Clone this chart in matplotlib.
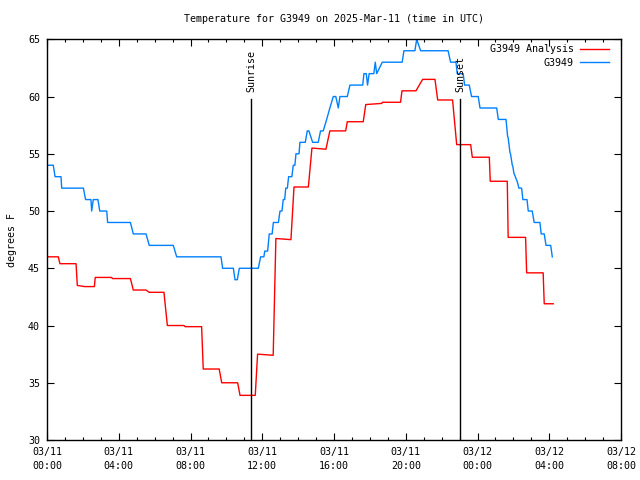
import matplotlib
matplotlib.use("Agg")
import matplotlib.pyplot as plt
import numpy as np

# hours since 03/11 00:00 UTC
obs_t = [0.00, 0.35, 0.45, 0.78, 0.82, 2.03, 2.15, 2.45, 2.49, 2.58, 2.84, 2.94, 3.33, 3.38,
         4.65, 4.81, 5.52, 5.70, 7.04, 7.23, 9.70, 9.79, 10.39, 10.48, 10.61, 10.72, 11.78,
         11.91, 12.09, 12.14, 12.30, 12.39, 12.55, 12.62, 12.90, 12.99, 13.10, 13.17, 13.25,
         13.31, 13.40, 13.47, 13.65, 13.73, 13.82, 13.88, 14.05, 14.10, 14.40, 14.51, 14.60,
         14.81, 15.12, 15.25, 15.40, 15.59, 15.77, 15.96, 16.10, 16.24, 16.33, 16.74, 16.89,
         17.60, 17.67, 17.80, 17.87, 17.96, 18.22, 18.30, 18.38, 18.69, 19.80, 19.90, 20.51,
         20.61, 20.83, 22.36, 22.50, 22.80, 22.87, 23.20, 23.28, 23.54, 23.67, 24.04, 24.14,
         25.07, 25.16, 25.59, 25.68, 25.71, 25.81, 25.84, 25.94, 25.97, 26.03, 26.06, 26.18,
         26.21, 26.31, 26.46, 26.53, 26.76, 26.83, 27.05, 27.16, 27.48, 27.55, 27.72, 27.82,
         28.08, 28.17]
obs_v = [54, 54, 53, 53, 52, 52, 51, 51, 50, 51, 51, 50, 50, 49,
         49, 48, 48, 47, 47, 46, 46, 45, 45, 44, 44, 45, 45,
         46, 46, 46.5, 46.5, 48, 48, 49, 49, 50, 50, 51, 51,
         52, 52, 53, 53, 54, 54, 55, 55, 56, 56, 57, 57,
         56, 56, 57, 57, 58, 59, 60, 60, 59, 60, 60, 61,
         61, 62, 62, 61, 62, 62, 63, 62, 63, 63, 64, 64,
         65, 64, 64, 63, 63, 62, 62, 61, 61, 60, 60, 59,
         59, 58, 58, 56.5, 56.4, 55.1, 55.0, 54.0, 53.9, 53.3, 53.2, 52.7,
         52.6, 52, 52, 51, 51, 50, 50, 49, 49, 48, 48, 47,
         47, 46]

ana_t = [0.00, 0.63, 0.72, 1.62, 1.69, 2.10, 2.64, 2.69, 3.60, 3.65, 4.65, 4.81, 5.52, 5.70,
         6.52, 6.71, 7.64, 7.70, 8.62, 8.71, 9.60, 9.74, 10.63, 10.76, 11.61, 11.74, 12.61,
         12.76, 13.60, 13.77, 14.57, 14.77, 15.55, 15.77, 16.65, 16.74, 17.63, 17.77, 18.66,
         18.70, 19.71, 19.79, 20.57, 20.94, 21.63, 21.78, 22.61, 22.84, 23.62, 23.71, 24.66,
         24.71, 25.66, 25.71, 26.68, 26.74, 27.66, 27.72, 28.22]
ana_v = [46.0, 46.0, 45.4, 45.4, 43.5, 43.4, 43.4, 44.2, 44.2, 44.1, 44.1, 43.1, 43.1, 42.9,
         42.9, 40.0, 40.0, 39.9, 39.9, 36.2, 36.2, 35.0, 35.0, 33.9, 33.9, 37.5, 37.4,
         47.6, 47.5, 52.1, 52.1, 55.5, 55.4, 57.0, 57.0, 57.8, 57.8, 59.3, 59.4,
         59.5, 59.5, 60.5, 60.5, 61.5, 61.5, 59.7, 59.7, 55.8, 55.8, 54.7, 54.7,
         52.6, 52.6, 47.7, 47.7, 44.6, 44.6, 41.9, 41.9]

sunrise = 11.40
sunset = 23.02

xtick_hours = [0, 4, 8, 12, 16, 20, 24, 28, 32]
xtick_labels = ["03/11\n00:00", "03/11\n04:00", "03/11\n08:00", "03/11\n12:00",
                "03/11\n16:00", "03/11\n20:00", "03/12\n00:00", "03/12\n04:00",
                "03/12\n08:00"]

plt.rcParams['font.family'] = 'DejaVu Sans Mono'
plt.rcParams['font.size'] = 7.2

fig = plt.figure(figsize=(6.4, 4.8), dpi=100)
ax = fig.add_axes([47/640, 40/480, 574/640, 400.7/480])

ax.plot(ana_t, ana_v, color='#ff0000', lw=1.0, label='G3949 Analysis')
ax.plot(obs_t, obs_v, color='#0080ff', lw=1.0, label='G3949')

for t, name in [(sunrise, 'Sunrise'), (sunset, 'Sunset')]:
    ax.plot([t, t], [30, 59.8], color='black', lw=1.0)
    ax.text(t, 60.4, name, rotation=90, ha='center', va='bottom')

ax.set_xlim(0, 32)
ax.set_ylim(30, 65)
ax.set_xticks(xtick_hours)
ax.set_xticklabels(xtick_labels, linespacing=1.5)
ax.set_xticks(np.arange(0, 33, 1), minor=True)
ax.set_yticks(np.arange(30, 66, 5))
ax.tick_params(which='both', direction='in', top=True, right=True, width=0.8)
ax.tick_params(which='major', length=5, pad=5)
ax.tick_params(which='minor', length=2.5)
for s in ax.spines.values():
    s.set_linewidth(1.0)

ax.legend(loc='upper right', bbox_to_anchor=(0.979, 0.988), frameon=False,
          markerfirst=False, handlelength=2.9, handletextpad=0.6,
          labelspacing=0.35, borderpad=0, borderaxespad=0)

fig.text(334/640, 1 - 19/480, 'Temperature for G3949 on 2025-Mar-11 (time in UTC)',
         ha='center', va='center')
fig.text(12/640, 0.5, 'degrees F', rotation=90, ha='center', va='center')

fig.savefig('out.png', dpi=100)
